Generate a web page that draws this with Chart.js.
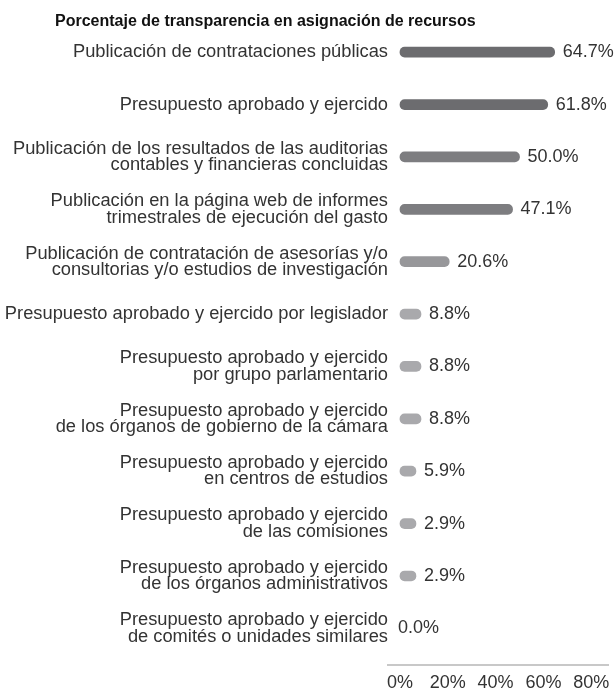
<!DOCTYPE html>
<html>
<head>
<meta charset="utf-8">
<script src="https://cdn.jsdelivr.net/npm/chart.js@4.4.1/dist/chart.umd.min.js"></script>
<style>
  body { margin: 0; background: #fff; }
  #wrap { position: relative; width: 614px; height: 691px; }
  #title {
    position: absolute; left: 55px; top: 12px;
    font: bold 16px "Liberation Sans", Arial, sans-serif; color: #111;
  }
</style>
</head>
<body>
<div id="wrap">
  <div id="title">Porcentaje de transparencia en asignación de recursos</div>
  <canvas id="chart" width="614" height="691"></canvas>
</div>
<script>
const categories = [
  'Publicación de contrataciones públicas',
  'Presupuesto aprobado y ejercido',
  ['Publicación de los resultados de las auditorias', 'contables y financieras concluidas'],
  ['Publicación en la página web de informes', 'trimestrales de ejecución del gasto'],
  ['Publicación de contratación de asesorías y/o', 'consultorias y/o estudios de investigación'],
  'Presupuesto aprobado y ejercido por legislador',
  ['Presupuesto aprobado y ejercido', 'por grupo parlamentario'],
  ['Presupuesto aprobado y ejercido', 'de los órganos de gobierno de la cámara'],
  ['Presupuesto aprobado y ejercido', 'en centros de estudios'],
  ['Presupuesto aprobado y ejercido', 'de las comisiones'],
  ['Presupuesto aprobado y ejercido', 'de los órganos administrativos'],
  ['Presupuesto aprobado y ejercido', 'de comités o unidades similares']
];
const values = [64.7, 61.8, 50.0, 47.1, 20.6, 8.8, 8.8, 8.8, 5.9, 2.9, 2.9, 0.0];
const xTicks = [0, 20, 40, 60, 80];

// shades of gray, darker for the top rows
const barColors = ['#6c6c6f', '#6c6c6f', '#7d7d80', '#7d7d80', '#97979a',
  '#a9a9ac', '#a9a9ac', '#a9a9ac', '#a9a9ac', '#a9a9ac', '#a9a9ac', '#a9a9ac'];

const FONT = '"Liberation Sans", Arial, sans-serif';
Chart.defaults.font.family = FONT;
Chart.defaults.color = '#333';

const valueLabels = {
  id: 'valueLabels',
  afterDatasetsDraw(chart) {
    const ctx = chart.ctx;
    const meta = chart.getDatasetMeta(0);
    ctx.save();
    ctx.font = '18px ' + FONT;
    ctx.fillStyle = '#333';
    ctx.textBaseline = 'middle';
    ctx.textAlign = 'left';
    meta.data.forEach((bar, i) => {
      const v = values[i];
      const end = v > 0 ? bar.x + 8 : chart.scales.x.getPixelForValue(0) - 2;
      ctx.fillText(v.toFixed(1) + '%', end, bar.y);
    });
    ctx.restore();
  }
};

new Chart(document.getElementById('chart'), {
  type: 'bar',
  data: {
    datasets: [{
      data: values.map((v, i) => ({ x: v, y: i })),
      backgroundColor: (c) => values[c.dataIndex] > 0 ? barColors[c.dataIndex] : 'rgba(0,0,0,0)',
      barThickness: 10,
      minBarLength: 16,
      borderRadius: 5,
      borderSkipped: false
    }]
  },
  options: {
    indexAxis: 'y',
    responsive: false,
    animation: false,
    devicePixelRatio: 1,
    layout: { padding: { top: 26, right: 6, bottom: 0, left: 0 } },
    plugins: {
      legend: { display: false },
      tooltip: { enabled: false }
    },
    scales: {
      x: {
        type: 'linear',
        min: -5,
        max: 87,
        afterBuildTicks: (s) => { s.ticks = xTicks.map(v => ({ value: v })); },
        afterFit: (s) => { s.height = 26; s.paddingLeft = 0; s.paddingRight = 0; },
        grid: { display: false, drawTicks: false },
        border: { color: '#c8c8c8', width: 2 },
        ticks: {
          padding: 9,
          color: '#333',
          font: { size: 18, lineHeight: 1 },
          maxRotation: 0,
          callback: (v) => v + '%'
        }
      },
      y: {
        type: 'linear',
        reverse: true,
        offset: false,
        min: -0.5,
        max: 11.7,
        afterBuildTicks: (s) => { s.ticks = categories.map((_, i) => ({ value: i })); },
        afterFit: (s) => { s.width = 388; s.paddingTop = 0; s.paddingBottom = 0; },
        grid: { display: false, drawTicks: false },
        border: { display: false },
        ticks: {
          padding: 0,
          color: '#333',
          font: { size: 18.3, lineHeight: 0.9 },
          autoSkip: false,
          callback: (v) => categories[v]
        }
      }
    }
  },
  plugins: [valueLabels]
});
</script>
</body>
</html>
